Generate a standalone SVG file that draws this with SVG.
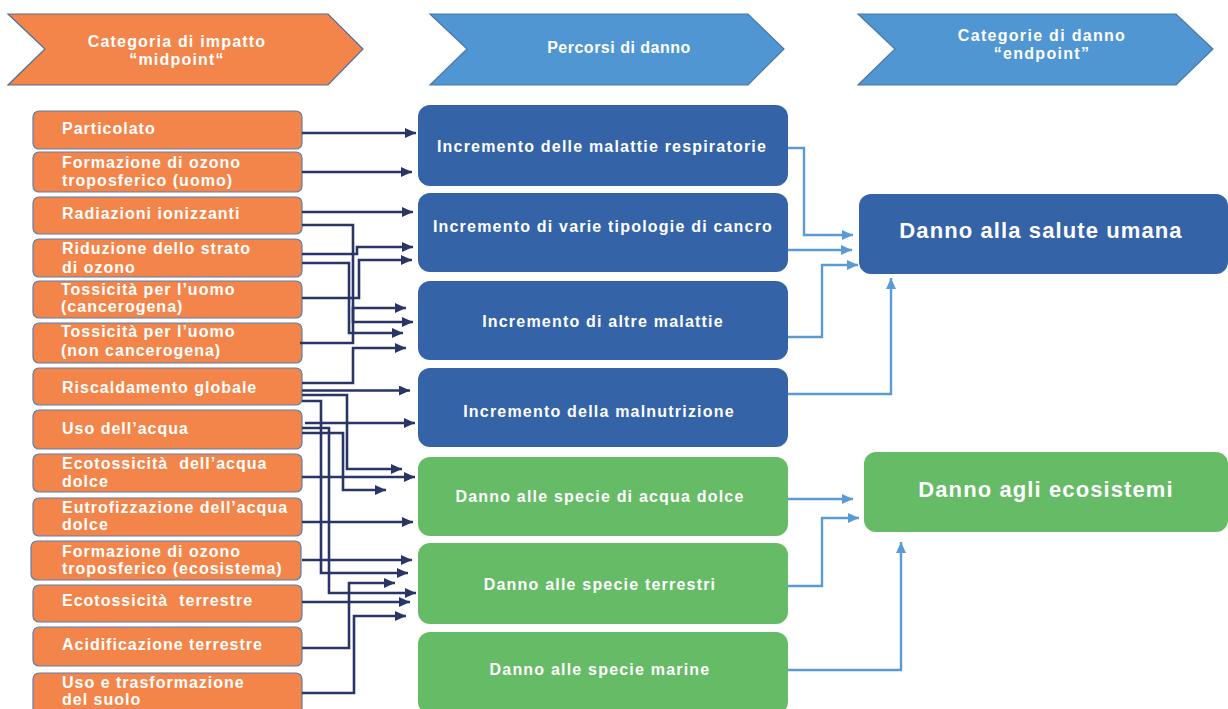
<svg xmlns="http://www.w3.org/2000/svg" width="1228" height="709" viewBox="0 0 1228 709">
<defs>
<marker id="ad" markerUnits="userSpaceOnUse" markerWidth="12" markerHeight="10" refX="11" refY="5" orient="auto"><path d="M0,0 L11,5 L0,10 z" fill="#283566"/></marker>
<marker id="al" markerUnits="userSpaceOnUse" markerWidth="12" markerHeight="10" refX="11" refY="5" orient="auto"><path d="M0,0 L11,5 L0,10 z" fill="#5B9BD5"/></marker>
<style>
.hdr-o{fill:#F4854A;stroke:#4E6F96;stroke-width:1.2}
.hdr-b{fill:#4F96D3;stroke:#4A78A6;stroke-width:1.2}
.ht{font-family:"Liberation Sans",Arial,sans-serif;font-weight:bold;font-size:16px;fill:#fff;text-anchor:middle}
.lb{fill:#F4854A;stroke:#5A7FAE;stroke-width:1.2}
.lt{font-family:"Liberation Sans",Arial,sans-serif;font-weight:bold;font-size:16px;fill:#fff;letter-spacing:1px;white-space:pre}
.mb{fill:#3563A8}
.gb{fill:#66BB66}
.mt{font-family:"Liberation Sans",Arial,sans-serif;font-weight:bold;font-size:16px;fill:#fff;text-anchor:middle;letter-spacing:1.2px}
.rt{font-family:"Liberation Sans",Arial,sans-serif;font-weight:bold;font-size:22px;fill:#fff;text-anchor:middle;letter-spacing:1.1px}
.cd{fill:none;stroke:#283566;stroke-width:2.6;marker-end:url(#ad)}
.cl{fill:none;stroke:#5B9BD5;stroke-width:2.4;marker-end:url(#al)}
</style>
</defs>
<rect width="1228" height="709" fill="#fff"/>

<g id="header-midpoint">
<polygon class="hdr-o" points="8,14 328,14 363,49 328,85 8,85 45,49"/>
<text class="ht" x="177" y="47" style="letter-spacing:1.2px">Categoria di impatto</text>
<text class="ht" x="177" y="65" style="letter-spacing:1.2px">“midpoint“</text>
</g>
<g id="header-percorsi">
<polygon class="hdr-b" points="430,14 748,14 784,49 748,85 430,85 467,49"/>
<text class="ht" x="619" y="53" style="letter-spacing:0.5px">Percorsi di danno</text>
</g>
<g id="header-endpoint">
<polygon class="hdr-b" points="858,14 1176,14 1213,49 1176,85 858,85 895,49"/>
<text class="ht" x="1042" y="41" style="letter-spacing:1.3px">Categorie di danno</text>
<text class="ht" x="1042" y="59" style="letter-spacing:1.3px">“endpoint”</text>
</g>

<g id="n-particolato"><rect class="lb" x="33" y="111" width="269" height="38" rx="6"/><text class="lt" x="62" y="134">Particolato</text></g>
<g id="n-ozono-uomo"><rect class="lb" x="33" y="152" width="269" height="40" rx="6"/><text class="lt" x="62" y="168">Formazione di ozono</text><text class="lt" x="62" y="186">troposferico (uomo)</text></g>
<g id="n-radiazioni"><rect class="lb" x="33" y="197" width="269" height="37" rx="6"/><text class="lt" x="62" y="219">Radiazioni ionizzanti</text></g>
<g id="n-riduzione"><rect class="lb" x="33" y="239" width="269" height="38" rx="6"/><text class="lt" x="62" y="254">Riduzione dello strato</text><text class="lt" x="62" y="273">di ozono</text></g>
<g id="n-tox-canc"><rect class="lb" x="33" y="281" width="269" height="37" rx="6"/><text class="lt" x="61" y="295">Tossicità per l’uomo</text><text class="lt" x="61" y="312">(cancerogena)</text></g>
<g id="n-tox-noncanc"><rect class="lb" x="33" y="323" width="269" height="40" rx="6"/><text class="lt" x="61" y="337">Tossicità per l’uomo</text><text class="lt" x="61" y="356">(non cancerogena)</text></g>
<g id="n-riscaldamento"><rect class="lb" x="33" y="368" width="269" height="37" rx="6"/><text class="lt" x="62" y="393">Riscaldamento globale</text></g>
<g id="n-uso-acqua"><rect class="lb" x="33" y="410" width="269" height="39" rx="6"/><text class="lt" x="62" y="434">Uso dell’acqua</text></g>
<g id="n-ecotox-dolce"><rect class="lb" x="33" y="454" width="269" height="38" rx="6"/><text class="lt" x="62" y="469">Ecotossicità  dell’acqua</text><text class="lt" x="62" y="487">dolce</text></g>
<g id="n-eutrofizzazione"><rect class="lb" x="33" y="498" width="269" height="38" rx="6"/><text class="lt" x="62" y="513">Eutrofizzazione dell’acqua</text><text class="lt" x="62" y="530">dolce</text></g>
<g id="n-ozono-eco"><rect class="lb" x="31" y="541" width="270" height="39" rx="6"/><text class="lt" x="62" y="557">Formazione di ozono</text><text class="lt" x="62" y="574">troposferico (ecosistema)</text></g>
<g id="n-ecotox-terr"><rect class="lb" x="33" y="585" width="269" height="37" rx="6"/><text class="lt" x="62" y="606">Ecotossicità  terrestre</text></g>
<g id="n-acidificazione"><rect class="lb" x="33" y="627" width="269" height="39" rx="6"/><text class="lt" x="62" y="650">Acidificazione terrestre</text></g>
<g id="n-uso-suolo"><rect class="lb" x="33" y="673" width="269" height="42" rx="6"/><text class="lt" x="62" y="688">Uso e trasformazione</text><text class="lt" x="62" y="705">del suolo</text></g>

<g id="p-respiratorie"><rect class="mb" x="418" y="105" width="370" height="81" rx="12"/><text class="mt" x="602" y="152">Incremento delle malattie respiratorie</text></g>
<g id="p-cancro"><rect class="mb" x="418" y="193" width="370" height="79" rx="12"/><text class="mt" x="603" y="232">Incremento di varie tipologie di cancro</text></g>
<g id="p-altre"><rect class="mb" x="418" y="281" width="370" height="79" rx="12"/><text class="mt" x="603" y="327">Incremento di altre malattie</text></g>
<g id="p-malnutrizione"><rect class="mb" x="418" y="368" width="370" height="79" rx="12"/><text class="mt" x="599" y="417">Incremento della malnutrizione</text></g>
<g id="p-acqua-dolce"><rect class="gb" x="418" y="457" width="370" height="79" rx="12"/><text class="mt" x="600" y="502">Danno alle specie di acqua dolce</text></g>
<g id="p-terrestri"><rect class="gb" x="418" y="543" width="370" height="81" rx="12"/><text class="mt" x="600" y="590">Danno alle specie terrestri</text></g>
<g id="p-marine"><rect class="gb" x="418" y="632" width="370" height="82" rx="12"/><text class="mt" x="600" y="675">Danno alle specie marine</text></g>

<g id="e-salute"><rect class="mb" x="859" y="194" width="369" height="80" rx="12"/><text class="rt" x="1041" y="238">Danno alla salute umana</text></g>
<g id="e-ecosistemi"><rect class="gb" x="864" y="452" width="364" height="80" rx="12"/><text class="rt" x="1046" y="497">Danno agli ecosistemi</text></g>

<g id="connectors">
<path class="cd" d="M302,133 H416"/>
<path class="cd" d="M302,172 H412"/>
<path class="cd" d="M302,212 H413"/>
<path class="cd" d="M302,225 H353 V322 H413"/>
<path class="cd" d="M302,254 H357 V247 H413"/>
<path class="cd" d="M302,263 H349 V333 H403"/>
<path class="cd" d="M302,298 H359 V260 H412"/>
<path class="cd" d="M300,343 H353 V308 H406"/>
<path class="cd" d="M302,383 H353 V348 H406"/>
<path class="cd" d="M302,390.5 H410"/>
<path class="cd" d="M302,395 H347 V469 H402"/>
<path class="cd" d="M302,401 H321 V573 H408"/>
<path class="cd" d="M305,423 H415"/>
<path class="cd" d="M302,428 H329 V593 H416"/>
<path class="cd" d="M302,433 H343 V490 H386"/>
<path class="cd" d="M302,477 H415"/>
<path class="cd" d="M302,522 H413"/>
<path class="cd" d="M302,560 H412"/>
<path class="cd" d="M302,602 H410"/>
<path class="cd" d="M302,648 H349 V583 H395"/>
<path class="cd" d="M302,693 H354 V616 H406"/>

<path class="cl" d="M788,148 H804 V235 H853"/>
<path class="cl" d="M788,250 H852"/>
<path class="cl" d="M788,337 H822 V265 H858"/>
<path class="cl" d="M788,394 H891 V278"/>
<path class="cl" d="M788,499 H853"/>
<path class="cl" d="M788,586 H822 V518 H859"/>
<path class="cl" d="M788,670 H901 V542"/>
</g>
</svg>
